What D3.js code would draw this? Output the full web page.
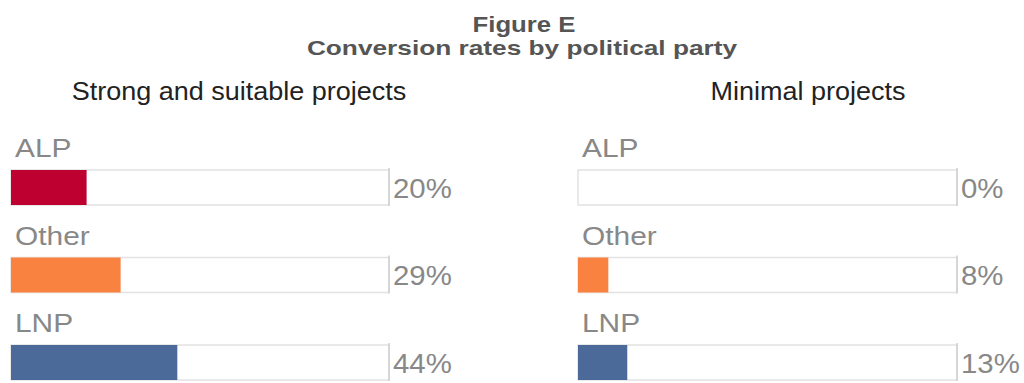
<!DOCTYPE html>
<html>
<head>
<meta charset="utf-8">
<script src="https://cdn.jsdelivr.net/npm/d3@7"></script>
<style>
  body { margin: 0; background: #fff; }
  text { font-family: "Liberation Sans", Arial, sans-serif; }
</style>
</head>
<body>
<div id="chart"></div>
<script>
// DATA
const parties = ["ALP", "Other", "LNP"];
const partyColors = ["#BE0030", "#F98240", "#4B6A99"];
const panelTitles = ["Strong and suitable projects", "Minimal projects"];
const strongRates = [20, 29, 44];
const minimalRates = [0, 8, 13];

// SIZE
const width = 1024;
const height = 383;
const barH = 35;

const svg = d3.select("#chart")
    .append("svg")
    .attr("width", width)
    .attr("height", height);

// helper: text stretched a little horizontally, like the source image
function addText(g, x, y, str, size, sx, opts) {
    return g.append("text")
        .attr("transform", "translate(" + x + "," + y + ") scale(" + sx + ",1)")
        .attr("font-size", size)
        .attr("fill", opts.fill)
        .attr("font-weight", opts.weight || "normal")
        .attr("text-anchor", opts.anchor || "start")
        .text(str);
}

// TITLE
addText(svg, 524, 32, "Figure E", 22, 1.17, { fill: "#555", weight: "bold", anchor: "middle" });
addText(svg, 522, 55, "Conversion rates by political party", 21, 1.25, { fill: "#555", weight: "bold", anchor: "middle" });

// PANELS
const panels = [
    { title: panelTitles[0], values: strongRates, x0: 11, x1: 389, tx: 239 },
    { title: panelTitles[1], values: minimalRates, x0: 578, x1: 957, tx: 808 }
];

// bar tops
const y = d3.scalePoint()
    .domain(parties)
    .range([170, 345]);

const color = d3.scaleOrdinal().domain(parties).range(partyColors);

panels.forEach(function (p) {
    const x = d3.scaleLinear().domain([0, 100]).range([p.x0, p.x1]);
    const g = svg.append("g");

    addText(g, p.tx, 100, p.title, 25, 1.08, { fill: "#222", anchor: "middle" });

    const rows = g.selectAll(".row")
        .data(parties.map(function (d, i) { return { key: d, value: p.values[i] }; }))
        .enter().append("g")
        .attr("class", "row");

    // background track
    rows.append("rect")
        .attr("x", x(0))
        .attr("y", function (d) { return y(d.key); })
        .attr("width", x(100) - x(0))
        .attr("height", barH)
        .attr("fill", "#fff")
        .attr("stroke", "#e2e2e2")
        .attr("stroke-width", 1.5);

    rows.append("line")
        .attr("x1", x(100)).attr("x2", x(100))
        .attr("y1", function (d) { return y(d.key) - 2; })
        .attr("y2", function (d) { return y(d.key) + barH + 1; })
        .attr("stroke", "#cfcfcf")
        .attr("stroke-width", 1.5);

    // value bar
    rows.append("rect")
        .attr("x", x(0))
        .attr("y", function (d) { return y(d.key); })
        .attr("width", function (d) { return x(d.value) - x(0); })
        .attr("height", barH)
        .attr("fill", function (d) { return color(d.key); });

    // party label + value label
    rows.each(function (d) {
        const r = d3.select(this);
        const top = y(d.key);
        addText(r, x(0) + 4, top - 13, d.key, 26, 1.15, { fill: "#888" });
        addText(r, x(100) + 4, top + barH / 2 + 10, d.value + "%", 28, 1.05, { fill: "#888" });
    });
});
</script>
</body>
</html>
